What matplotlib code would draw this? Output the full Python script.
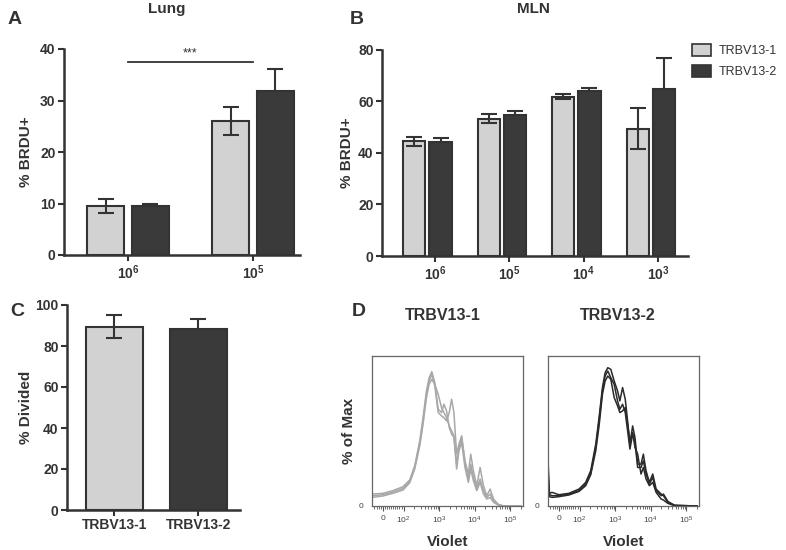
import numpy as np
import matplotlib
matplotlib.use('Agg')
import matplotlib.pyplot as plt
from matplotlib.patches import Patch

plt.rcParams['font.family'] = ['Liberation Sans', 'DejaVu Sans']
plt.rcParams['mathtext.fontset'] = 'custom'
plt.rcParams['mathtext.rm'] = 'Liberation Sans'
plt.rcParams['mathtext.bf'] = 'Liberation Sans:bold'
plt.rcParams['mathtext.it'] = 'Liberation Sans:italic'

# ---------------- data ----------------
series = ['TRBV13-1', 'TRBV13-2']

lung_doses = [r'$\mathbf{10^6}$', r'$\mathbf{10^5}$']
lung_13_1 = [9.5, 26.0]
lung_13_1_err = [1.4, 2.75]
lung_13_2 = [9.6, 31.8]
lung_13_2_err = [0.4, 4.3]
lung_sig_pair = [0, 1]
lung_sig_y = 37.4
lung_sig_text = '***'

mln_doses = [r'$\mathbf{10^6}$', r'$\mathbf{10^5}$', r'$\mathbf{10^4}$', r'$\mathbf{10^3}$']
mln_13_1 = [44.5, 53.3, 61.9, 49.5]
mln_13_1_err = [1.6, 1.7, 1.0, 7.8]
mln_13_2 = [44.4, 54.9, 63.9, 64.7]
mln_13_2_err = [1.5, 1.5, 1.3, 12.2]

divided = [89.4, 88.1]
divided_err = [5.7, 5.2]

# flow histograms (Violet intensity vs % of Max)
hist1_x = [-50, 0, 48, 97, 148, 205, 284, 352, 438, 521, 620, 754, 937, 1165, 1356,
           1614, 1920, 2235, 2600, 3095, 3603, 4290, 5325, 6620, 7710, 9170, 11400,
           14170, 17600, 21860, 27180, 33780, 46800, 64800, 200000]
hist1_a = [8.6, 9.1, 11.0, 13.9, 18.7, 28.9, 46.9, 63.6, 82.8, 92.3, 96.6, 88.7, 69.6,
           67.2, 73.2, 68.4, 56.5, 51.7, 49.3, 30.1, 42.1, 49.3, 30.1, 19.4, 30.1, 20.6,
           12.2, 19.4, 11.0, 6.2, 8.6, 3.8, 1.0, 0, 0]
hist1_b = [7.4, 8.1, 10.0, 12.7, 17.5, 27.7, 45.0, 61.2, 80.4, 89.9, 94.7, 86.4, 67.2,
           64.8, 63.6, 61.2, 67.2, 76.8, 67.2, 37.3, 44.5, 50.5, 32.5, 23.0, 37.3, 25.4,
           14.6, 27.7, 14.6, 7.4, 12.2, 5.0, 1.0, 0, 0]
hist1_c = [6.2, 7.2, 9.1, 11.5, 16.7, 26.6, 43.3, 58.8, 78.0, 87.5, 91.1, 87.5, 80.4,
           70.8, 67.2, 63.6, 57.6, 54.1, 50.5, 26.6, 39.7, 45.7, 27.7, 17.0, 26.6, 18.2,
           11.0, 17.0, 8.6, 5.0, 6.2, 2.6, 0.5, 0, 0]

hist2_x = [-52, -45, -32, 0, 48, 97, 148, 205, 284, 352, 438, 521, 620, 754, 937, 1165,
           1356, 1614, 1920, 2235, 2600, 3095, 3603, 4290, 5325, 6200, 7380, 9170, 11400,
           14170, 19600, 22800, 30300, 46800, 200000]
hist2_a = [33.7, 9.1, 9.8, 8.1, 9.1, 12.2, 17.0, 25.4, 44.5, 63.6, 85.2, 95.9, 99.5, 98.3,
           89.9, 82.8, 75.6, 85.2, 76.8, 61.2, 44.5, 57.6, 49.3, 30.1, 30.1, 37.3, 25.4,
           17.0, 23.0, 12.2, 8.6, 7.4, 2.6, 0.5, 0]
hist2_b = [23.0, 8.1, 7.4, 7.4, 8.6, 11.0, 15.8, 23.4, 42.1, 61.2, 82.8, 93.5, 97.1, 92.3,
           87.5, 75.6, 69.6, 73.2, 67.2, 54.1, 40.9, 51.7, 45.7, 27.7, 27.7, 32.5, 23.0,
           15.8, 20.6, 11.0, 7.4, 8.6, 3.3, 0.5, 0]
hist2_c = [13.4, 6.7, 6.2, 6.7, 7.9, 10.5, 14.6, 22.5, 39.7, 57.6, 80.4, 89.9, 93.5, 91.1,
           78.0, 72.0, 67.2, 68.4, 70.8, 58.8, 46.9, 52.9, 42.1, 37.3, 23.0, 27.7, 19.4,
           14.6, 17.0, 9.8, 5.0, 4.3, 1.9, 0.2, 0]

flow_ticks = [0, 100, 1000, 10000, 100000]
flow_ticklabels = ['0', r'$10^2$', r'$10^3$', r'$10^4$', r'$10^5$']

# ---------------- style ----------------
LIGHT = '#d2d2d2'
DARK = '#3a3a3a'
EDGE = '#333333'
TXT = '#333333'
W, H = 786, 550

fig = plt.figure(figsize=(W / 100, H / 100), dpi=100)


def ax_px(l, t, r, b):
    return fig.add_axes([l / W, 1 - b / H, (r - l) / W, (b - t) / H])


def style_bar_axes(ax):
    for s in ['top', 'right']:
        ax.spines[s].set_visible(False)
    for s in ['left', 'bottom']:
        ax.spines[s].set_color(EDGE)
        ax.spines[s].set_linewidth(1.8)
    ax.tick_params(axis='both', colors=EDGE, width=1.5, length=4.5, labelsize=10,
                   labelcolor=TXT, pad=1.5)
    for lab in ax.get_yticklabels() + ax.get_xticklabels():
        lab.set_fontweight('bold')


ekw = dict(ecolor=EDGE, elinewidth=1.5, capsize=5.5, capthick=1.5)
ekw_dark = dict(ekw, zorder=0.5)

# ---- Panel A: Lung ----
axA = ax_px(64, 49, 300, 255)
xa = np.arange(len(lung_doses))
w, off = 0.296, 0.178
axA.bar(xa - off, lung_13_1, w, yerr=lung_13_1_err, color=LIGHT, edgecolor=EDGE,
        linewidth=1.5, error_kw=ekw)
axA.bar(xa + off, lung_13_2, w, yerr=lung_13_2_err, color=DARK, edgecolor=EDGE,
        linewidth=1.5, error_kw=ekw_dark)
axA.set_xlim(-0.512, 1.376)
axA.set_ylim(0, 40)
axA.set_yticks([0, 10, 20, 30, 40])
axA.set_xticks(xa)
axA.set_xticklabels(lung_doses)
axA.plot(lung_sig_pair, [lung_sig_y, lung_sig_y], color=EDGE, lw=1.3, clip_on=False)
axA.text(np.mean(lung_sig_pair), lung_sig_y + 0.6, lung_sig_text, ha='center', va='bottom',
         fontsize=9, color=TXT)
axA.set_ylabel('% BRDU+', fontsize=11, fontweight='bold', color=TXT, labelpad=5)
style_bar_axes(axA)

# ---- Panel B: MLN ----
axB = ax_px(382, 50, 688, 256)
xb = np.arange(len(mln_doses))
wb, offb = 0.30, 0.176
axB.bar(xb - offb, mln_13_1, wb, yerr=mln_13_1_err, color=LIGHT, edgecolor=EDGE,
        linewidth=1.5, error_kw=ekw)
axB.bar(xb + offb, mln_13_2, wb, yerr=mln_13_2_err, color=DARK, edgecolor=EDGE,
        linewidth=1.5, error_kw=ekw_dark)
axB.set_xlim(-0.61, 3.50)
axB.set_ylim(0, 80)
axB.set_yticks([0, 20, 40, 60, 80])
axB.set_xticks(xb + 0.1)
axB.set_xticklabels(mln_doses)
axB.set_ylabel('% BRDU+', fontsize=11, fontweight='bold', color=TXT, labelpad=3)
style_bar_axes(axB)

# ---- Panel C: % Divided ----
axC = ax_px(67, 305, 240, 510)
xc = np.arange(len(series))
axC.bar(xc[:1], divided[:1], 0.68, yerr=divided_err[:1], color=LIGHT, edgecolor=EDGE,
        linewidth=1.5, error_kw=ekw)
axC.bar(xc[1:], divided[1:], 0.68, yerr=divided_err[1:], color=DARK, edgecolor=EDGE,
        linewidth=1.5, error_kw=ekw_dark)
axC.set_xlim(-0.565, 1.494)
axC.set_ylim(0, 100)
axC.set_yticks([0, 20, 40, 60, 80, 100])
axC.set_xticks(xc)
axC.set_xticklabels(series)
axC.set_ylabel('% Divided', fontsize=11, fontweight='bold', color=TXT, labelpad=2)
style_bar_axes(axC)

# ---- Panel D: histograms ----
minor = ([-40, -30, -20, -10, 10, 20, 30, 40, 50, 60, 70, 80, 90]
         + [m * 10 ** d for d in (2, 3, 4) for m in range(2, 10)] + [200000])


def flow_axes(ax, xs, ys, color, title, xcenter):
    for y in ys:
        ax.plot(xs, y, color=color, lw=1.1)
    ax.set_xscale('symlog', linthresh=100, linscale=0.527)
    ax.set_xlim(-52, 228000)
    ax.set_ylim(0, 107.9)
    ax.set_xticks(flow_ticks)
    ax.set_xticklabels(flow_ticklabels)
    ax.set_xticks(minor, minor=True)
    ax.set_yticks([0])
    ax.set_yticklabels(['0'])
    for s in ax.spines.values():
        s.set_color('#666666')
        s.set_linewidth(0.9)
    ax.tick_params(axis='x', which='major', length=3.5, width=0.8, colors='#555555',
                   labelsize=6, labelcolor='#444444', pad=3)
    ax.tick_params(axis='x', which='minor', length=2, width=0.6, colors='#555555')
    ax.tick_params(axis='y', length=0, labelsize=6, labelcolor='#444444', pad=6)
    ax.set_xlabel('Violet', fontsize=11, fontweight='bold', color=TXT, labelpad=6)
    fig.text(xcenter / W, 1 - 315 / H, title, ha='center', va='center', fontsize=11.5,
             fontweight='bold', color=TXT)


axD1 = ax_px(372, 356, 523, 506)
flow_axes(axD1, hist1_x, [hist1_a, hist1_b, hist1_c], '#a8a8a8', series[0], 443)
axD1.set_ylabel('% of Max', fontsize=11, fontweight='bold', color=TXT, labelpad=2)
axD2 = ax_px(548, 356, 699, 506)
flow_axes(axD2, hist2_x, [hist2_a, hist2_b, hist2_c], '#2a2a2a', series[1], 618)

# ---- titles, letters, legend ----
fig.text(167 / W, 1 - 9 / H, 'Lung', ha='center', va='center', fontsize=11,
         fontweight='bold', color=TXT)
fig.text(533 / W, 1 - 9 / H, 'MLN', ha='center', va='center', fontsize=11,
         fontweight='bold', color=TXT)
for letter, (lx, ly) in zip('ABCD', [(8, 20), (350, 20), (10, 312), (352, 312)]):
    fig.text(lx / W, 1 - ly / H, letter, ha='left', va='center', fontsize=14,
             fontweight='bold', color=TXT)

handles = [Patch(facecolor=LIGHT, edgecolor=EDGE, linewidth=1.2, label=series[0]),
           Patch(facecolor=DARK, edgecolor=EDGE, linewidth=1.2, label=series[1])]
fig.legend(handles=handles, loc='upper left', bbox_to_anchor=(692 / W, 1 - 44 / H),
           frameon=False, fontsize=9, handlelength=1.5, handleheight=1.1,
           handletextpad=0.6, labelspacing=0.6, borderpad=0, borderaxespad=0,
           labelcolor=TXT)

fig.savefig('out.png', dpi=100)
